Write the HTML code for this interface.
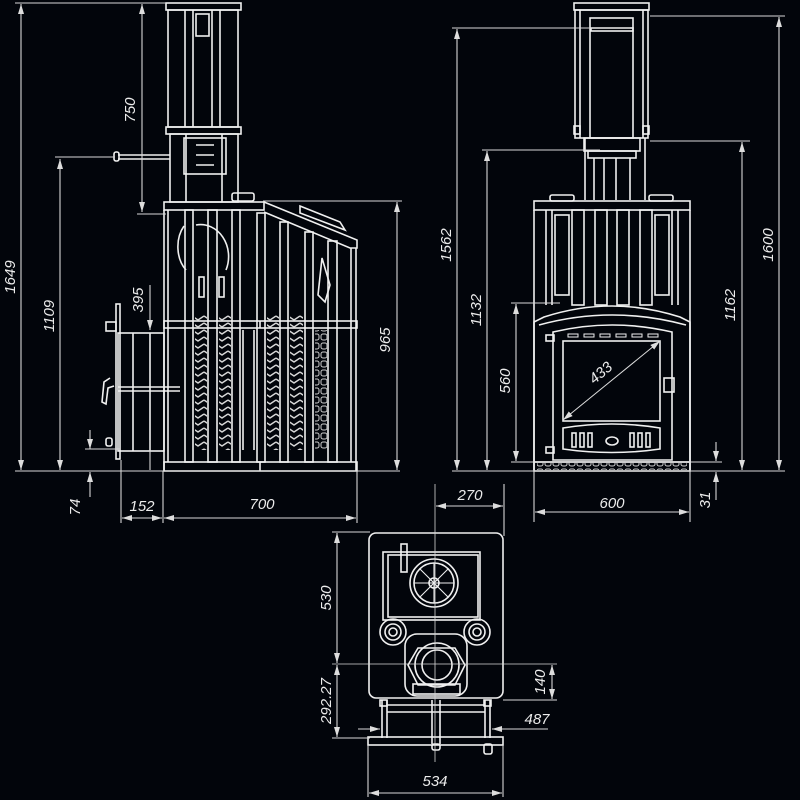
<!DOCTYPE html>
<html><head><meta charset="utf-8"><style>
html,body{margin:0;padding:0;background:#02050b;}
svg{display:block}
text{font-family:"Liberation Sans",sans-serif;font-style:italic;font-size:15px;fill:#ececec;}
</style></head><body>
<svg width="800" height="800" viewBox="0 0 800 800" xmlns="http://www.w3.org/2000/svg">
<defs>
<marker id="a" viewBox="0 0 10 6" refX="10" refY="3" markerWidth="10" markerHeight="6" orient="auto-start-reverse" markerUnits="userSpaceOnUse"><path d="M0,0L10,3L0,6z" fill="#ddd"/></marker>
<pattern id="chev" width="12" height="7" patternUnits="userSpaceOnUse"><path d="M0,1 L6,5 L12,1" fill="none" stroke="#d8d8d8" stroke-width="1.4"/></pattern>
<pattern id="slot" width="8" height="9" patternUnits="userSpaceOnUse"><rect x="1" y="1" width="6" height="6" rx="2" fill="none" stroke="#ccc" stroke-width="1"/></pattern>
</defs>
<rect width="800" height="800" fill="#02050b"/>

<!-- ============ LEFT (SIDE) VIEW ============ -->
<g fill="none" stroke="#f0f0f0" stroke-width="1.6">
<rect x="166" y="3" width="75" height="7"/>
<rect x="168" y="10" width="70" height="117"/>
<line x1="185" y1="10" x2="185" y2="127"/><line x1="193" y1="10" x2="193" y2="127"/>
<line x1="212" y1="10" x2="212" y2="127"/><line x1="220" y1="10" x2="220" y2="127"/>
<rect x="196" y="14" width="13" height="22"/>
<rect x="166" y="127" width="75" height="7"/>
<rect x="170" y="134" width="68" height="68"/>
<rect x="184" y="138" width="42" height="36"/>
<line x1="196" y1="145" x2="214" y2="145"/><line x1="196" y1="155" x2="214" y2="155"/><line x1="196" y1="165" x2="214" y2="165"/>
<line x1="186" y1="134" x2="186" y2="202"/><line x1="222" y1="134" x2="222" y2="202"/>
<line x1="118" y1="155" x2="170" y2="155"/><line x1="118" y1="159" x2="170" y2="159"/>
<rect x="114" y="152" width="5" height="9" rx="2"/>
<rect x="232" y="193" width="22" height="8" rx="2"/>
<rect x="164" y="202" width="100" height="8"/>
<path d="M264,202 L357,240 L357,248 L350,248 L264,212"/>
<path d="M300,206 L340,222 L345,230 L300,213 Z"/>
<line x1="164" y1="210" x2="164" y2="471"/><line x1="356" y1="248" x2="356" y2="471"/>
<line x1="168" y1="210" x2="168" y2="462"/><line x1="351" y1="248" x2="351" y2="462"/>
<rect x="164" y="321" width="193" height="7"/>
<line x1="260" y1="321" x2="260" y2="328"/>
<rect x="164" y="462" width="193" height="9"/>
<line x1="260" y1="462" x2="260" y2="471"/>
<rect x="185" y="210" width="8" height="252"/>
<rect x="208" y="210" width="9" height="252"/>
<rect x="232" y="210" width="8" height="252"/>
<rect x="257" y="213" width="8" height="249"/>
<rect x="280" y="222" width="8" height="240"/>
<rect x="305" y="232" width="8" height="230"/>
<rect x="328" y="241" width="9" height="221"/>
<path d="M196,225 A28,32 0 0 1 226,270"/>
<path d="M184,226 A22,30 0 0 0 186,270"/>
<rect x="199" y="277" width="5" height="20"/><rect x="219" y="277" width="5" height="20"/>
<path d="M322,258 L330,285 L325,302 L318,295 Z"/>
<rect x="195" y="315" width="12" height="135" fill="url(#chev)" stroke="none"/>
<rect x="219" y="315" width="12" height="135" fill="url(#chev)" stroke="none"/>
<rect x="267" y="315" width="12" height="135" fill="url(#chev)" stroke="none"/>
<rect x="290" y="315" width="13" height="135" fill="url(#chev)" stroke="none"/>
<rect x="315" y="330" width="12" height="120" fill="url(#slot)" stroke="none"/>
<line x1="243" y1="330" x2="243" y2="450"/><line x1="254" y1="330" x2="254" y2="450"/>
<rect x="118" y="333" width="46" height="118"/>
<line x1="133" y1="333" x2="133" y2="451"/><line x1="150" y1="333" x2="150" y2="451"/>
<line x1="118" y1="387" x2="180" y2="387"/><line x1="118" y1="391" x2="180" y2="391"/>
<rect x="116" y="304" width="4" height="155"/>
<rect x="106" y="322" width="10" height="9"/>
<rect x="106" y="438" width="6" height="8" rx="2"/>
<path d="M110,378 L104,382 L102,402 L106,404 L108,388 L114,386"/>
</g>

<!-- ============ RIGHT (FRONT) VIEW ============ -->
<g fill="none" stroke="#f0f0f0" stroke-width="1.6">
<rect x="574" y="3" width="75" height="7"/>
<rect x="575" y="10" width="73" height="128"/>
<line x1="580" y1="10" x2="580" y2="138"/><line x1="643" y1="10" x2="643" y2="138"/>
<rect x="590" y="18" width="43" height="120"/>
<rect x="591" y="28" width="42" height="3"/>
<rect x="574" y="126" width="6" height="8"/><rect x="643" y="126" width="6" height="8"/>
<rect x="584" y="138" width="56" height="13"/>
<rect x="588" y="151" width="48" height="7"/>
<line x1="594" y1="158" x2="594" y2="200"/><line x1="630" y1="158" x2="630" y2="200"/>
<line x1="604" y1="158" x2="604" y2="200"/><line x1="616" y1="158" x2="616" y2="200"/>
<line x1="585" y1="138" x2="585" y2="200"/><line x1="645" y1="138" x2="645" y2="200"/>
<rect x="550" y="195" width="24" height="6" rx="2"/><rect x="649" y="195" width="24" height="6" rx="2"/>
<rect x="534" y="201" width="156" height="9"/>
<line x1="534" y1="210" x2="534" y2="470"/><line x1="690" y1="210" x2="690" y2="470"/>
<line x1="546" y1="210" x2="546" y2="305"/><line x1="552" y1="210" x2="552" y2="305"/>
<line x1="672" y1="210" x2="672" y2="305"/><line x1="678" y1="210" x2="678" y2="305"/>
<rect x="555" y="215" width="14" height="80"/><rect x="655" y="215" width="14" height="80"/>
<rect x="572" y="210" width="12" height="95"/><rect x="595" y="210" width="12" height="95"/>
<rect x="617" y="210" width="12" height="95"/><rect x="640" y="210" width="12" height="95"/>
<path d="M544,317 Q612,295 680,317 L690,322 L690,462 L534,462 L534,322 Z"/>
<path d="M539,325 Q612,305 686,325"/>
<path d="M553,332 Q612,318 672,332 L672,460 L553,460 Z"/>
<rect x="563" y="341" width="97" height="80"/>
<g stroke-width="1"><rect x="568" y="334" width="10" height="3"/><rect x="584" y="334" width="10" height="3"/><rect x="600" y="334" width="10" height="3"/><rect x="616" y="334" width="10" height="3"/><rect x="632" y="334" width="10" height="3"/><rect x="648" y="334" width="10" height="3"/></g>
<path d="M563,428 Q612,420 660,428 L660,449 Q612,456 563,449 Z"/>
<rect x="572" y="433" width="4" height="14"/><rect x="580" y="433" width="4" height="14"/><rect x="588" y="433" width="4" height="14"/>
<rect x="630" y="433" width="4" height="14"/><rect x="638" y="433" width="4" height="14"/><rect x="646" y="433" width="4" height="14"/>
<ellipse cx="612" cy="441" rx="6" ry="4"/>
<rect x="664" y="378" width="10" height="14"/>
<rect x="546" y="335" width="8" height="6"/><rect x="546" y="447" width="8" height="6"/>
<rect x="534" y="462" width="156" height="9"/>
<rect x="537" y="463" width="150" height="7" fill="url(#slot)" stroke="none"/>
</g>
<line x1="563" y1="420" x2="660" y2="341" stroke="#ddd" stroke-width="1" marker-start="url(#a)" marker-end="url(#a)"/>
<rect x="588" y="362" width="22" height="20" fill="#02050b" transform="rotate(-40 600 372)"/>
<text x="600" y="378" text-anchor="middle" transform="rotate(-40 600 372)">433</text>

<!-- ============ TOP VIEW ============ -->
<g fill="none" stroke="#f0f0f0" stroke-width="1.6">
<rect x="369" y="533" width="134" height="165" rx="7"/>
<rect x="383" y="552" width="97" height="68"/>
<rect x="388" y="555" width="90" height="62"/>
<rect x="401" y="544" width="6" height="28"/>
<circle cx="434" cy="583" r="24"/><circle cx="434" cy="583" r="20"/>
<g stroke-width="1.1"><line x1="434" y1="563" x2="434" y2="603"/><line x1="414" y1="583" x2="454" y2="583"/><line x1="420" y1="569" x2="448" y2="597"/><line x1="448" y1="569" x2="420" y2="597"/></g>
<circle cx="434" cy="583" r="5"/>
<circle cx="393" cy="632" r="13"/><circle cx="393" cy="632" r="8"/><circle cx="393" cy="632" r="4"/>
<circle cx="477" cy="632" r="13"/><circle cx="477" cy="632" r="8"/><circle cx="477" cy="632" r="4"/>
<rect x="405" y="634" width="62" height="62" rx="12"/>
<rect x="413" y="684" width="47" height="10"/>
<path d="M418,648 L455,648 L465,665 L455,685 L418,685 L408,665 Z"/>
<circle cx="437" cy="665" r="22"/><circle cx="437" cy="665" r="15"/>
<line x1="382" y1="700" x2="382" y2="738"/><line x1="387" y1="700" x2="387" y2="738"/>
<line x1="485" y1="700" x2="485" y2="738"/><line x1="490" y1="700" x2="490" y2="738"/>
<line x1="387" y1="705" x2="485" y2="705"/><line x1="387" y1="712" x2="485" y2="712"/>
<rect x="380" y="700" width="7" height="6"/><rect x="484" y="700" width="7" height="6"/>
<rect x="368" y="737" width="135" height="8"/>
<rect x="432" y="744" width="8" height="6" rx="2"/>
<rect x="484" y="744" width="8" height="10" rx="2"/>
<line x1="432" y1="700" x2="432" y2="744"/><line x1="440" y1="700" x2="440" y2="744"/>
</g>

<!-- ============ DIMENSIONS ============ -->
<g fill="none" stroke="#d8d8d8" stroke-width="1.1">
<line x1="15" y1="3" x2="166" y2="3"/><line x1="15" y1="471" x2="400" y2="471"/>
<line x1="21" y1="4" x2="21" y2="470" marker-start="url(#a)" marker-end="url(#a)"/>
<line x1="142" y1="4" x2="142" y2="212" marker-start="url(#a)" marker-end="url(#a)"/>
<line x1="137" y1="214" x2="166" y2="214"/>
<line x1="55" y1="157" x2="115" y2="157"/>
<line x1="60" y1="159" x2="60" y2="470" marker-start="url(#a)" marker-end="url(#a)"/>
<line x1="150" y1="285" x2="150" y2="330" marker-end="url(#a)"/>
<line x1="150" y1="470" x2="150" y2="440" />
<line x1="263" y1="201" x2="402" y2="201"/>
<line x1="397" y1="202" x2="397" y2="470" marker-start="url(#a)" marker-end="url(#a)"/>
<line x1="85" y1="449" x2="120" y2="449"/>
<line x1="90" y1="430" x2="90" y2="449" marker-end="url(#a)"/>
<line x1="90" y1="497" x2="90" y2="472" marker-end="url(#a)"/>
<line x1="121" y1="460" x2="121" y2="523"/><line x1="163" y1="471" x2="163" y2="523"/><line x1="357" y1="471" x2="357" y2="523"/>
<line x1="122" y1="518" x2="162" y2="518" marker-start="url(#a)" marker-end="url(#a)"/>
<line x1="164" y1="518" x2="356" y2="518" marker-start="url(#a)" marker-end="url(#a)"/>
<line x1="452" y1="28" x2="630" y2="28"/><line x1="452" y1="471" x2="785" y2="471"/>
<line x1="457" y1="29" x2="457" y2="470" marker-start="url(#a)" marker-end="url(#a)"/>
<line x1="482" y1="150" x2="600" y2="150"/>
<line x1="487" y1="151" x2="487" y2="470" marker-start="url(#a)" marker-end="url(#a)"/>
<line x1="511" y1="303" x2="560" y2="303"/><line x1="511" y1="462" x2="722" y2="462"/>
<line x1="516" y1="304" x2="516" y2="461" marker-start="url(#a)" marker-end="url(#a)"/>
<line x1="650" y1="16" x2="785" y2="16"/>
<line x1="779" y1="17" x2="779" y2="470" marker-start="url(#a)" marker-end="url(#a)"/>
<line x1="650" y1="141" x2="750" y2="141"/>
<line x1="742" y1="142" x2="742" y2="470" marker-start="url(#a)" marker-end="url(#a)"/>
<line x1="716" y1="442" x2="716" y2="461" marker-end="url(#a)"/>
<line x1="716" y1="500" x2="716" y2="472" marker-end="url(#a)"/>
<line x1="534" y1="471" x2="534" y2="522"/><line x1="690" y1="471" x2="690" y2="522"/>
<line x1="535" y1="512" x2="689" y2="512" marker-start="url(#a)" marker-end="url(#a)"/>
<line x1="435" y1="484" x2="435" y2="762" stroke-width="0.8"/>
<line x1="504" y1="484" x2="504" y2="536"/>
<line x1="436" y1="506" x2="503" y2="506" marker-start="url(#a)" marker-end="url(#a)"/>
<line x1="332" y1="532" x2="370" y2="532"/><line x1="332" y1="738" x2="370" y2="738"/>
<line x1="332" y1="664" x2="557" y2="664" stroke-width="0.8"/>
<line x1="337" y1="533" x2="337" y2="663" marker-start="url(#a)" marker-end="url(#a)"/>
<line x1="337" y1="665" x2="337" y2="737" marker-start="url(#a)" marker-end="url(#a)"/>
<line x1="503" y1="700" x2="557" y2="700"/>
<line x1="552" y1="665" x2="552" y2="699" marker-start="url(#a)" marker-end="url(#a)"/>
<line x1="358" y1="729" x2="380" y2="729" marker-end="url(#a)"/>
<line x1="548" y1="729" x2="492" y2="729" marker-end="url(#a)"/>
<line x1="368" y1="745" x2="368" y2="797"/><line x1="503" y1="745" x2="503" y2="797"/>
<line x1="369" y1="793" x2="502" y2="793" marker-start="url(#a)" marker-end="url(#a)"/>
</g>

<text transform="translate(15,277) rotate(-90)" text-anchor="middle">1649</text>
<text transform="translate(135,110) rotate(-90)" text-anchor="middle">750</text>
<text transform="translate(54,316) rotate(-90)" text-anchor="middle">1109</text>
<text transform="translate(143,300) rotate(-90)" text-anchor="middle">395</text>
<text transform="translate(390,340) rotate(-90)" text-anchor="middle">965</text>
<text transform="translate(80,507) rotate(-90)" text-anchor="middle">74</text>
<text x="142" y="511" text-anchor="middle">152</text>
<text x="262" y="509" text-anchor="middle">700</text>
<text transform="translate(451,245) rotate(-90)" text-anchor="middle">1562</text>
<text transform="translate(481,310) rotate(-90)" text-anchor="middle">1132</text>
<text transform="translate(510,381) rotate(-90)" text-anchor="middle">560</text>
<text transform="translate(773,245) rotate(-90)" text-anchor="middle">1600</text>
<text transform="translate(735,305) rotate(-90)" text-anchor="middle">1162</text>
<text transform="translate(710,500) rotate(-90)" text-anchor="middle">31</text>
<text x="612" y="508" text-anchor="middle">600</text>
<text x="470" y="500" text-anchor="middle">270</text>
<text transform="translate(331,598) rotate(-90)" text-anchor="middle">530</text>
<text transform="translate(331,701) rotate(-90)" text-anchor="middle">292.27</text>
<text transform="translate(545,682) rotate(-90)" text-anchor="middle">140</text>
<text x="537" y="724" text-anchor="middle">487</text>
<text x="435" y="786" text-anchor="middle">534</text>
</svg>
</body></html>
